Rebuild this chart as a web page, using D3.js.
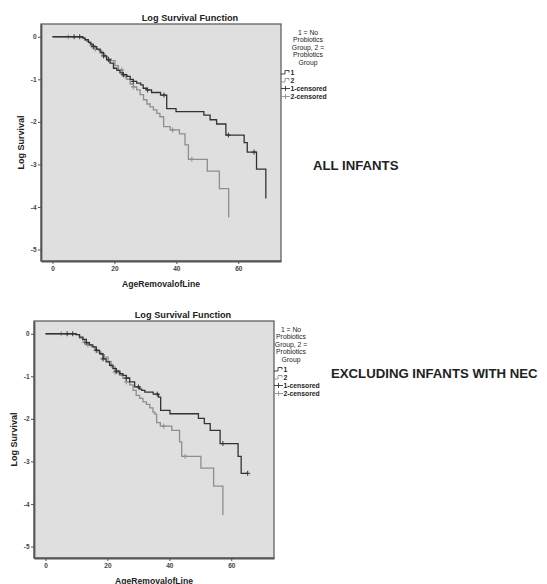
<!DOCTYPE html>
<html>
<head>
<meta charset="utf-8">
<script src="https://cdn.jsdelivr.net/npm/d3@7"></script>
<style>
    body { margin: 0; background: #fff; }
    svg { font-family: "Liberation Sans", Arial, sans-serif; }
    .tick text { font-size: 6.5px; font-weight: bold; fill: #444; }
    .tick line { stroke: #555; }
    .legend-text { font-family: "Liberation Sans Narrow", "Arial Narrow", sans-serif; font-size: 6.8px; fill: #222; }
</style>
</head>
<body>
<script>
// axis ticks and legend labels
const xTicks = [0, 20, 40, 60];
const yTicks = [0, -1, -2, -3, -4, -5];
const legendTitle = ["1 = No", "Probiotics", "Group, 2 =", "Probiotics", "Group"];
const legendItems = ["1", "2", "1-censored", "2-censored"];

// ALL INFANTS: event times and log survival after each step
const allTimes1 = [9.8, 10.5, 11.6, 12.4, 13.2, 14.3, 15.4, 16.5, 17.5, 18.6, 19.7, 20.8, 21.8, 22.9, 24.0, 25.1, 26.1, 27.2, 28.5, 29.3, 30.5, 32.0, 34.9, 36.9, 39.9, 48.9, 50.9, 53.0, 56.0, 61.9, 62.9, 65.9, 68.9];
const allLogS1 = [-0.03, -0.07, -0.13, -0.18, -0.23, -0.29, -0.37, -0.45, -0.54, -0.62, -0.74, -0.79, -0.85, -0.89, -0.93, -1.00, -1.05, -1.09, -1.13, -1.21, -1.25, -1.31, -1.37, -1.69, -1.76, -1.84, -1.95, -2.05, -2.31, -2.49, -2.71, -3.11, -3.80];
const allCens1 = [7.0, 8.8, 13.2, 16.5, 18.1, 22.9, 26.1, 30.7, 36.0, 56.8, 65.1];

const allTimes2 = [9.5, 10.5, 11.1, 12.0, 12.7, 13.8, 14.8, 15.9, 17.0, 18.1, 19.0, 20.2, 21.3, 22.6, 24.0, 25.1, 26.1, 27.2, 28.3, 29.4, 30.5, 31.5, 32.6, 33.7, 34.7, 35.9, 38.0, 41.0, 42.8, 43.9, 50.0, 53.9, 56.9];
const allLogS2 = [-0.02, -0.07, -0.11, -0.16, -0.21, -0.29, -0.32, -0.40, -0.48, -0.52, -0.56, -0.68, -0.78, -0.92, -1.00, -1.11, -1.18, -1.25, -1.36, -1.48, -1.58, -1.65, -1.72, -1.80, -1.88, -2.11, -2.19, -2.28, -2.54, -2.88, -3.16, -3.57, -4.25];
const allCens2 = [5.1, 12.7, 13.8, 22.4, 23.5, 26.1, 38.8, 45.0];

// EXCLUDING INFANTS WITH NEC
const necTimes1 = [9.9, 11.0, 12.1, 13.2, 14.2, 15.3, 16.4, 17.5, 18.6, 19.6, 20.7, 21.8, 22.9, 24.0, 25.0, 26.1, 27.2, 28.8, 30.4, 31.1, 32.1, 34.8, 36.5, 37.2, 40.2, 49.4, 51.3, 53.2, 56.4, 62.2, 63.2];
const necLogS1 = [-0.02, -0.08, -0.13, -0.21, -0.26, -0.31, -0.39, -0.47, -0.59, -0.66, -0.74, -0.82, -0.88, -0.94, -0.98, -1.04, -1.13, -1.25, -1.30, -1.33, -1.37, -1.42, -1.49, -1.80, -1.88, -1.99, -2.11, -2.27, -2.58, -2.88, -3.28];
const necCens1 = [7.0, 8.8, 13.2, 16.4, 18.6, 22.9, 26.1, 30.0, 36.1, 57.3, 65.3];

const necTimes2 = [9.9, 11.0, 12.0, 12.6, 13.7, 14.8, 15.9, 16.9, 18.0, 19.0, 20.2, 21.2, 22.5, 24.0, 25.0, 26.1, 27.2, 28.3, 29.3, 30.4, 31.5, 32.6, 33.7, 34.7, 35.3, 35.9, 37.1, 40.8, 43.3, 44.0, 50.2, 54.3, 57.3];
const necLogS2 = [-0.02, -0.10, -0.15, -0.20, -0.26, -0.31, -0.37, -0.43, -0.49, -0.55, -0.65, -0.78, -0.90, -0.98, -1.05, -1.13, -1.20, -1.33, -1.45, -1.52, -1.60, -1.66, -1.74, -1.84, -1.89, -2.09, -2.17, -2.27, -2.54, -2.88, -3.16, -3.58, -4.26];
const necCens2 = [5.1, 12.6, 13.7, 22.5, 23.5, 26.1, 38.2, 45.1];

const darkColor = "#333";
const lightColor = "#8e8e8e";

const svg = d3.select("body")
    .append("svg")
    .attr("width", 547)
    .attr("height", 584);

// points of the step curve, extended to the last censored case
function stepPoints(times, logS, cens) {
    const pts = [[0, 0]];
    times.forEach((t, i) => pts.push([t, logS[i]]));
    const lastCens = d3.max(cens);
    if (lastCens > times[times.length - 1]) {
        pts.push([lastCens, logS[logS.length - 1]]);
    }
    return pts;
}

// log survival at time t
function valueAt(times, logS, t) {
    let s = 0;
    times.forEach((tt, i) => { if (tt <= t) s = logS[i]; });
    return s;
}

function drawPanel(p) {
    const g = svg.append("g");

    const x = d3.scaleLinear()
        .domain([-3.7, 73.8])
        .range([p.left, p.left + 240]);
    const y = d3.scaleLinear()
        .domain([0.3, -5.27])
        .range([p.top, p.top + 237]);

    // plot background
    g.append("rect")
        .attr("x", p.left)
        .attr("y", p.top)
        .attr("width", 240)
        .attr("height", 237)
        .attr("fill", "#dfdfdf")
        .attr("stroke", "#555")
        .attr("stroke-width", 1.2);

    // axes
    const xAxis = g.append("g")
        .attr("transform", `translate(0, ${p.top + 237})`)
        .call(d3.axisBottom(x).tickValues(xTicks).tickSize(3).tickSizeOuter(0).tickPadding(2).tickFormat(d => String(d)));
    const yAxis = g.append("g")
        .attr("transform", `translate(${p.left}, 0)`)
        .call(d3.axisLeft(y).tickValues(yTicks).tickSize(3).tickSizeOuter(0).tickPadding(1.5).tickFormat(d => String(d)));
    [xAxis, yAxis].forEach(a => a.select(".domain").attr("stroke", "#555").attr("stroke-width", 1.8));

    const line = d3.line()
        .x(d => x(d[0]))
        .y(d => y(d[1]))
        .curve(d3.curveStepAfter);

    const groups = [
        { times: p.times2, logS: p.logS2, cens: p.cens2, color: lightColor },
        { times: p.times1, logS: p.logS1, cens: p.cens1, color: darkColor }
    ];

    groups.forEach(gr => {
        g.append("path")
            .datum(stepPoints(gr.times, gr.logS, gr.cens))
            .attr("fill", "none")
            .attr("stroke", gr.color)
            .attr("stroke-width", 1.3)
            .attr("d", line);

        // censored marks
        g.selectAll(null)
            .data(gr.cens)
            .enter()
            .append("path")
            .attr("fill", "none")
            .attr("stroke", gr.color)
            .attr("stroke-width", 1)
            .attr("d", d => {
                const cx = x(d), cy = y(valueAt(gr.times, gr.logS, d));
                return `M${cx - 2.5},${cy}H${cx + 2.5}M${cx},${cy - 2.5}V${cy + 2.5}`;
            });
    });

    // titles
    g.append("text")
        .attr("x", p.titleX)
        .attr("y", p.top - 3.5)
        .attr("text-anchor", "middle")
        .attr("font-size", "9.2px")
        .attr("font-weight", "bold")
        .attr("fill", "#222")
        .text("Log Survival Function");

    g.append("text")
        .attr("x", p.left + 120)
        .attr("y", p.top + 262.5)
        .attr("text-anchor", "middle")
        .attr("font-size", "8.6px")
        .attr("font-weight", "bold")
        .attr("fill", "#222")
        .text("AgeRemovalofLine");

    g.append("text")
        .attr("transform", `translate(${p.left - 17}, ${p.top + 118.5}) rotate(-90)`)
        .attr("text-anchor", "middle")
        .attr("font-size", "9px")
        .attr("font-weight", "bold")
        .attr("fill", "#222")
        .text("Log Survival");

    // legend
    const lg = g.append("g");
    lg.selectAll("text.head")
        .data(legendTitle)
        .enter()
        .append("text")
        .attr("class", "legend-text head")
        .attr("x", p.legendX)
        .attr("y", (d, i) => p.top + 10.5 + i * 7.6)
        .attr("text-anchor", "middle")
        .text(d => d);

    const sx = p.left + 240;
    legendItems.forEach((d, i) => {
        const cy = p.top + 48.5 + i * 8;
        const color = i % 2 === 0 ? darkColor : lightColor;
        if (i < 2) {
            lg.append("path")
                .attr("fill", "none")
                .attr("stroke", color)
                .attr("stroke-width", 0.9)
                .attr("d", `M${sx},${cy + 1.5}h4v-3.5h4v2`);
        } else {
            lg.append("path")
                .attr("fill", "none")
                .attr("stroke", color)
                .attr("stroke-width", 0.9)
                .attr("d", `M${sx},${cy}h9M${sx + 4.5},${cy - 2.5}v5`);
        }
        lg.append("text")
            .attr("class", "legend-text")
            .attr("x", sx + 9.5)
            .attr("y", cy + 2.3)
            .attr("font-weight", "bold")
            .attr("font-size", "6.2px")
            .text(d);
    });

    // panel caption
    g.append("text")
        .attr("x", p.captionX)
        .attr("y", p.captionY)
        .attr("font-size", "13.2px")
        .attr("font-weight", "bold")
        .attr("fill", "#222")
        .text(p.caption);
}

drawPanel({
    left: 41, top: 24, titleX: 190, legendX: 308,
    caption: "ALL INFANTS", captionX: 313, captionY: 170,
    times1: allTimes1, logS1: allLogS1, cens1: allCens1,
    times2: allTimes2, logS2: allLogS2, cens2: allCens2
});

drawPanel({
    left: 34, top: 321, titleX: 183, legendX: 291,
    caption: "EXCLUDING INFANTS WITH NEC", captionX: 331, captionY: 377.5,
    times1: necTimes1, logS1: necLogS1, cens1: necCens1,
    times2: necTimes2, logS2: necLogS2, cens2: necCens2
});
</script>
</body>
</html>
